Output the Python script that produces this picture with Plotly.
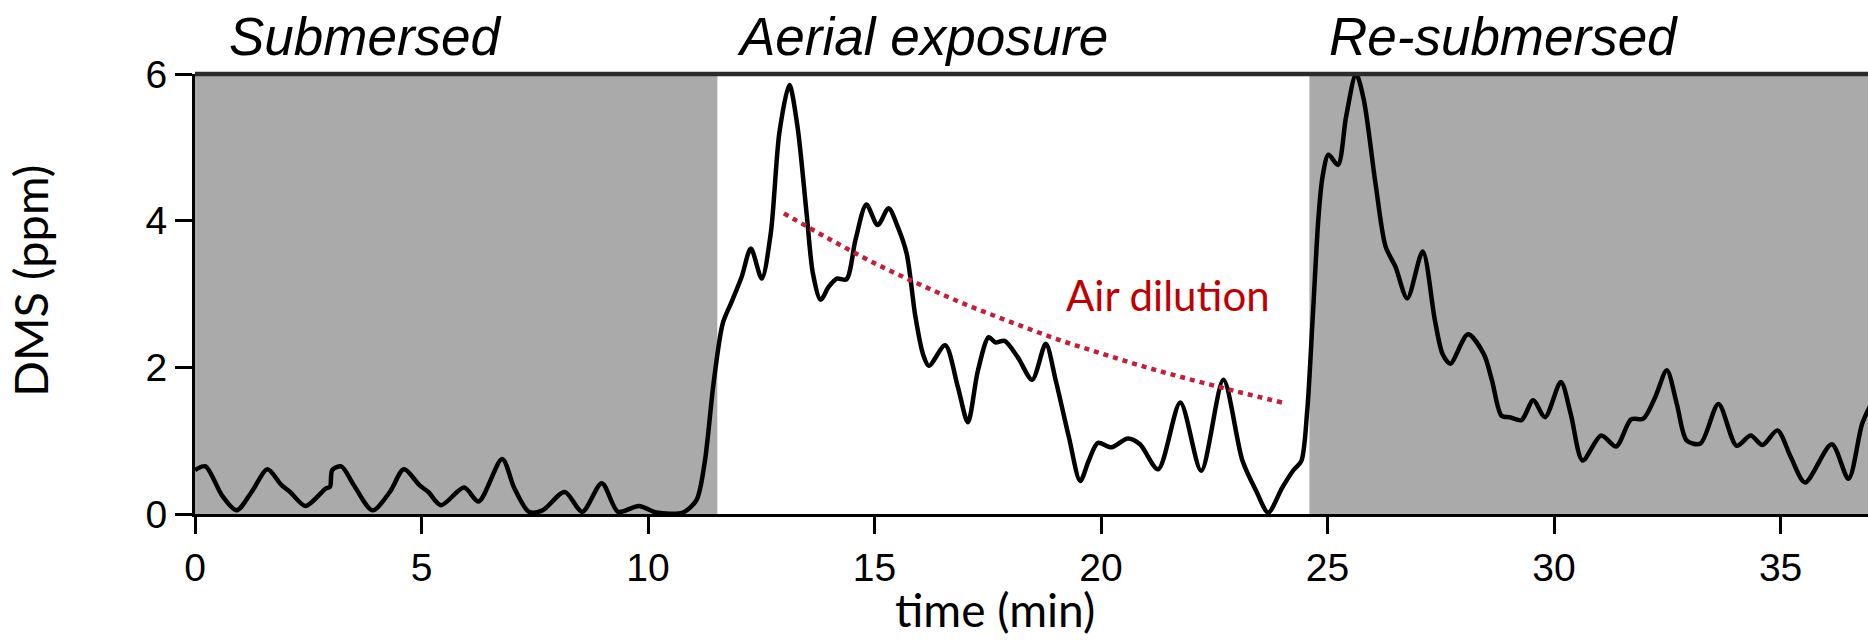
import plotly.graph_objects as go

# DMS trace (time in min, DMS in ppm)
time_min = [0.0, 0.23, 0.6, 0.92, 1.25, 1.6, 1.9, 2.1, 2.44, 2.89, 2.98, 3.03, 3.23, 3.5, 3.92,
            4.3, 4.61, 4.96, 5.15, 5.43, 5.94, 6.26, 6.78, 7.05, 7.37, 7.67, 8.16, 8.55, 8.98,
            9.34, 9.8, 10.18, 10.77, 11.07, 11.25, 11.45, 11.65, 11.85, 12.07, 12.27, 12.51,
            12.71, 12.9, 13.12, 13.3, 13.5, 13.64, 13.81, 13.99, 14.17, 14.38, 14.58, 14.82,
            15.07, 15.31, 15.51, 15.71, 15.9, 16.07, 16.2, 16.56, 16.84, 17.06, 17.28, 17.52,
            17.67, 17.87, 18.16, 18.48, 18.78, 19.0, 19.29, 19.54, 19.73, 19.93, 20.23, 20.59,
            20.86, 21.26, 21.75, 22.21, 22.7, 23.12, 23.42, 23.69, 24.0, 24.25, 24.42, 24.55,
            24.67, 24.8, 24.89, 25.02, 25.23, 25.41, 25.63, 25.8, 26.06, 26.28, 26.5, 26.76,
            27.1, 27.37, 27.54, 27.71, 28.1, 28.45, 28.63, 28.84, 29.02, 29.28, 29.54, 29.8,
            30.15, 30.37, 30.63, 31.04, 31.37, 31.7, 31.97, 32.23, 32.49, 32.71, 32.93, 33.23,
            33.63, 34.03, 34.34, 34.6, 34.93, 35.23, 35.54, 36.13, 36.5, 36.8, 37.0]
dms_ppm = [0.6, 0.65, 0.25, 0.05, 0.3, 0.61, 0.4, 0.3, 0.11, 0.35, 0.37, 0.6, 0.65, 0.4, 0.05,
           0.3, 0.61, 0.39, 0.3, 0.12, 0.36, 0.17, 0.75, 0.35, 0.03, 0.05, 0.3, 0.03, 0.42,
           0.03, 0.11, 0.02, 0.02, 0.19, 0.7, 1.8, 2.6, 2.9, 3.24, 3.62, 3.21,
           3.83, 5.2, 5.85, 5.28, 4.1, 3.28, 2.92, 3.1, 3.21, 3.2, 3.74, 4.22,
           3.94, 4.17, 3.92, 3.55, 2.7, 2.18, 2.02, 2.3, 1.73, 1.25, 1.95, 2.41,
           2.34, 2.36, 2.14, 1.83, 2.32, 1.82, 1.05, 0.45, 0.73, 0.97, 0.91, 1.03,
           0.95, 0.61, 1.52, 0.59, 1.83, 0.73, 0.32, 0.02, 0.36, 0.6, 0.72, 1.4,
           2.65, 4.05, 4.6, 4.9, 4.76, 5.42, 6.0, 5.65, 4.5, 3.65, 3.37, 2.94,
           3.58, 2.64, 2.18, 2.05, 2.45, 2.18, 1.82, 1.34, 1.32, 1.28, 1.55, 1.32,
           1.8, 1.36, 0.73, 1.07, 0.92, 1.29, 1.3, 1.59, 1.96, 1.5, 1.0, 0.96,
           1.5, 0.93, 1.07, 0.94, 1.14, 0.77, 0.43, 0.95, 0.48, 1.23, 1.5]

# Air dilution guide (dotted red)
dilution_time = [13.0, 14.0, 15.0, 16.0, 17.0, 18.0, 19.0, 20.0, 21.0, 22.0, 23.0, 24.0]
dilution_ppm = [4.1, 3.75, 3.42, 3.13, 2.86, 2.62, 2.39, 2.19, 2.0, 1.83, 1.67, 1.52]

# Phases
phase_labels = ["Submersed", "Aerial exposure", "Re-submersed"]
phase_label_x = [3.77, 16.05, 28.88]
submersed_spans = [(0.0, 11.53), (24.6, 40.0)]

x_ticks = [0, 5, 10, 15, 20, 25, 30, 35]
y_ticks = [0, 2, 4, 6]
x_range = [0, 36.93]
y_range = [0, 6]

fig = go.Figure()

for x0, x1 in submersed_spans:
    fig.add_shape(type="rect", xref="x", yref="y", x0=x0, x1=x1, y0=0, y1=6,
                  fillcolor="#aaaaaa", line=dict(width=0), layer="below")

fig.add_trace(go.Scatter(x=time_min, y=dms_ppm, mode="lines",
                         line=dict(color="black", width=4.5, shape="spline", smoothing=0.8),
                         showlegend=False, cliponaxis=True))
fig.add_trace(go.Scatter(x=dilution_time, y=dilution_ppm, mode="lines",
                         line=dict(color="#c41e3a", width=4.5, dash="5px,5px", shape="spline"),
                         showlegend=False))

# top frame line
fig.add_shape(type="line", xref="paper", yref="paper", x0=0, x1=1, y0=1, y1=1,
              line=dict(color="#2b2b2b", width=4.5))

for lab, xp in zip(phase_labels, phase_label_x):
    fig.add_annotation(x=xp, y=1.086, xref="x", yref="paper", text="<i>" + lab + "</i>",
                       showarrow=False, xanchor="center", yanchor="middle",
                       font=dict(family="Liberation Sans", size=53, color="black"))

fig.add_annotation(x=21.48, y=2.98, xref="x", yref="y", text="Air dilution", showarrow=False,
                   xanchor="center", yanchor="middle",
                   font=dict(family="Lato", size=42, color="#c00000"))

fig.add_annotation(x=17.66, y=-0.217, xref="x", yref="paper", text="time (min)", showarrow=False,
                   xanchor="center", yanchor="middle",
                   font=dict(family="Lato", size=46, color="black"))
fig.add_annotation(x=-0.0986, y=0.53, xref="paper", yref="paper", text="DMS (ppm)", showarrow=False,
                   xanchor="center", yanchor="middle", textangle=-90,
                   font=dict(family="Lato", size=47, color="black"))

fig.update_xaxes(range=x_range, tickvals=x_ticks, ticks="outside", ticklen=17, tickwidth=3,
                 tickcolor="black", showline=True, linecolor="black", linewidth=3,
                 showgrid=False, zeroline=False,
                 tickfont=dict(family="Liberation Sans", size=39, color="black"))
fig.update_yaxes(range=y_range, tickvals=y_ticks, ticks="outside", ticklen=17, tickwidth=3,
                 tickcolor="black", showline=True, linecolor="black", linewidth=3,
                 showgrid=False, zeroline=False,
                 tickfont=dict(family="Liberation Sans", size=39, color="black"))

fig.update_layout(width=1868, height=641, margin=dict(l=195, r=0, t=74, b=127),
                  plot_bgcolor="white", paper_bgcolor="white")

fig.write_html("out.html")
